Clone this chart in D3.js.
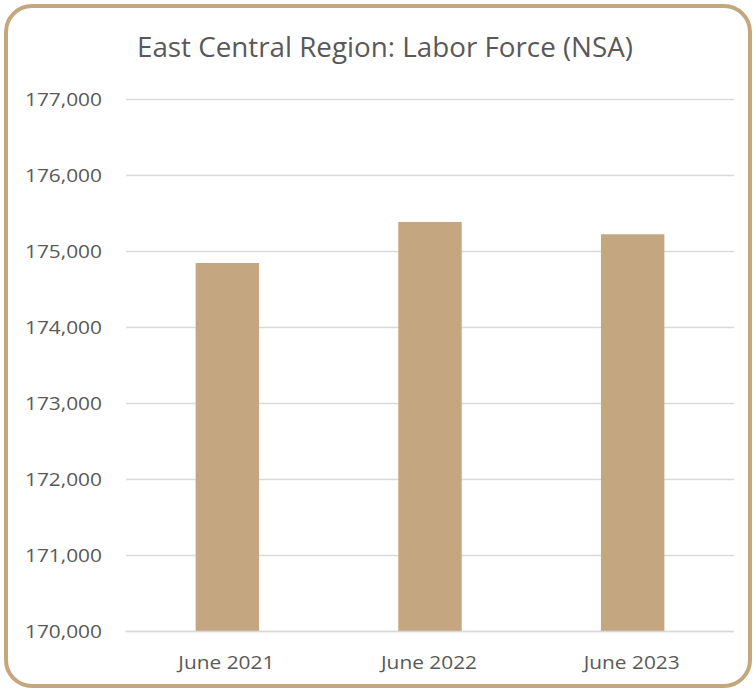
<!DOCTYPE html>
<html>
<head>
<meta charset="utf-8">
<script src="https://cdn.jsdelivr.net/npm/d3@7"></script>
<style>
  html, body { margin: 0; padding: 0; background: #ffffff; }
  svg { display: block; }
</style>
</head>
<body>
<svg id="chart" width="756" height="692"></svg>
<script>
const categories = ["June 2021", "June 2022", "June 2023"];
const laborForce = [174842, 175382, 175220];
const yTicks = [170000, 171000, 172000, 173000, 174000, 175000, 176000, 177000];
const title = "East Central Region: Labor Force (NSA)";

const svg = d3.select("#chart");
const W = 756, H = 692;
const FONT = "'Open Sans', 'Noto Sans', sans-serif";
const tan = "#C4A780";

svg.append("rect")
  .attr("x", 6).attr("y", 6)
  .attr("width", W - 12).attr("height", H - 12)
  .attr("rx", 26).attr("ry", 26)
  .attr("fill", "#ffffff")
  .attr("stroke", "#C4A77D")
  .attr("stroke-width", 4);

const plotLeft = 126, plotRight = 734;
const y = d3.scaleLinear().domain([170000, 177000]).range([631, 99]);
const x = d3.scaleBand().domain(categories).range([plotLeft, plotRight])
  .paddingInner(0.687).paddingOuter(0.687 / 2);

// gridlines + y labels
const yAxis = d3.axisLeft(y).tickValues(yTicks)
  .tickSize(-(plotRight - plotLeft))
  .tickPadding(24)
  .tickFormat(d3.format(","));
const gy = svg.append("g").attr("transform", `translate(${plotLeft},0)`).call(yAxis);
gy.select(".domain").remove();
gy.selectAll(".tick line").attr("stroke", "#D9D9D9").attr("stroke-width", 1.3);
gy.selectAll(".tick text")
  .attr("fill", "#595959")
  .attr("dy", "6px")
  .attr("textLength", 77)
  .attr("lengthAdjust", "spacingAndGlyphs")
  .style("font-family", FONT)
  .style("font-size", "18px");

// bars
svg.append("g").selectAll("rect")
  .data(categories.map((c, i) => ({ c, v: laborForce[i] })))
  .join("rect")
  .attr("x", d => x(d.c))
  .attr("width", x.bandwidth())
  .attr("y", d => y(d.v))
  .attr("height", d => y(170000) - y(d.v))
  .attr("fill", tan);

// x axis
const xAxis = d3.axisBottom(x).tickSize(0).tickPadding(0);
const gx = svg.append("g").attr("transform", `translate(-1,${y(170000)})`).call(xAxis);
gx.select(".domain").attr("stroke", "#D9D9D9").attr("stroke-width", 1.3);
gx.selectAll(".tick text")
  .attr("fill", "#595959")
  .attr("y", 38)
  .attr("dy", 0)
  .attr("textLength", 96)
  .attr("lengthAdjust", "spacingAndGlyphs")
  .style("font-family", FONT)
  .style("font-size", "19px");

// title
svg.append("text")
  .attr("x", 385).attr("y", 57)
  .attr("text-anchor", "middle")
  .attr("fill", "#595959")
  .attr("textLength", 496)
  .attr("lengthAdjust", "spacingAndGlyphs")
  .style("font-family", FONT)
  .style("font-size", "27px")
  .text(title);
</script>
</body>
</html>
